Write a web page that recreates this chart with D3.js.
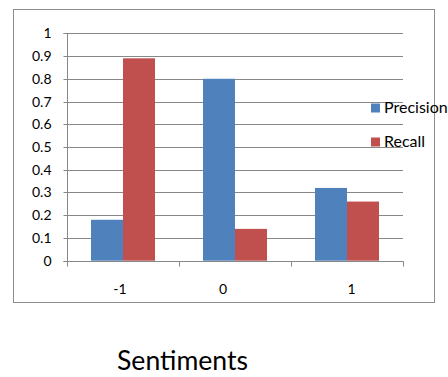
<!DOCTYPE html>
<html>
<head>
<meta charset="utf-8">
<script src="https://cdn.jsdelivr.net/npm/d3@7"></script>
<style>
html,body{margin:0;padding:0;background:#fff;}
svg{display:block;}
text{font-family:Lato,"Open Sans",sans-serif;fill:#000;}
</style>
</head>
<body>
<script>
const categories = ["-1", "0", "1"];
const seriesNames = ["Precision", "Recall"];
const precision = [0.18, 0.80, 0.32];
const recall = [0.89, 0.14, 0.26];
const yTicks = [0, 0.1, 0.2, 0.3, 0.4, 0.5, 0.6, 0.7, 0.8, 0.9, 1];
const colors = ["#4F81BD", "#C0504D"];
const xTitle = "Sentiments";

const W = 448, H = 377;
const svg = d3.select("body").append("svg").attr("width", W).attr("height", H);

// outer chart frame
svg.append("rect").attr("x", 13.5).attr("y", 9.5).attr("width", 421).attr("height", 293)
  .attr("fill", "#fff").attr("stroke", "#8c8c8c").attr("stroke-width", 1);

const pL = 67, pR = 403, pT = 33.3, pB = 260.7;
const x = d3.scaleBand().domain(categories).range([pL, pR]).paddingInner(0).paddingOuter(0);
const y = d3.scaleLinear().domain([0, 1]).range([pB, pT]);

// gridlines
svg.append("g").selectAll("line").data(yTicks.slice(1)).join("line")
  .attr("x1", pL).attr("x2", pR)
  .attr("y1", d => Math.round(y(d)) + 0.5).attr("y2", d => Math.round(y(d)) + 0.5)
  .attr("stroke", "#878787").attr("stroke-width", 1);

// bars
const x1 = d3.scaleBand().domain(seriesNames).range([0, x.bandwidth()]).paddingInner(0).paddingOuter(0.75);
const data = categories.map((c, i) => ({c, vals: [precision[i], recall[i]]}));
const g = svg.append("g");
data.forEach(d => {
  d.vals.forEach((v, j) => {
    g.append("rect")
      .attr("x", x(d.c) + x1(seriesNames[j]))
      .attr("y", y(v))
      .attr("width", x1.bandwidth())
      .attr("height", y(0) - y(v))
      .attr("fill", colors[j]);
  });
});

// y axis
const yAxis = d3.axisLeft(y).tickValues(yTicks).tickSize(4).tickPadding(12)
  .tickFormat(d => d3.format("")(+d.toFixed(1)));
const ya = svg.append("g").attr("transform", `translate(${pL + 0.5},0)`).call(yAxis);
ya.select(".domain").attr("stroke", "#878787").attr("d", `M-4,${Math.round(pT)+0.5}H0V${Math.round(pB)+0.5}H-4`);
ya.selectAll(".tick").attr("transform", d => `translate(0,${Math.round(y(d)) + 0.5})`);
ya.selectAll(".tick line").attr("stroke", "#878787");
ya.selectAll(".tick text").attr("font-size", "14px").attr("font-family", "Lato,sans-serif").attr("fill", "#000");

// x axis
const xa = svg.append("g").attr("transform", `translate(0,${Math.round(pB) + 0.5})`);
xa.append("line").attr("x1", pL).attr("x2", pR + 0.5).attr("y1", 0).attr("y2", 0).attr("stroke", "#878787");
const bounds = categories.map(c => x(c)).concat([x(categories[categories.length - 1]) + x.bandwidth()]);
xa.selectAll("line.tk").data(bounds).join("line").attr("class", "tk")
  .attr("x1", d => Math.round(d) + 0.5).attr("x2", d => Math.round(d) + 0.5)
  .attr("y1", 0).attr("y2", 5).attr("stroke", "#878787");
const labelShift = [-3, -12, 4.5];
xa.selectAll("text").data(categories).join("text")
  .attr("x", (d, i) => x(d) + x.bandwidth() / 2 + labelShift[i]).attr("y", 32)
  .attr("text-anchor", "middle").attr("font-size", "14px").text(d => d);

// legend
const leg = svg.append("g");
seriesNames.forEach((s, i) => {
  const ly = 108 + i * 34;
  leg.append("rect").attr("x", 371).attr("y", ly - 4.5).attr("width", 9).attr("height", 9).attr("fill", colors[i]);
  leg.append("text").attr("x", 384).attr("y", ly + 5).attr("font-size", "16px").text(s);
});

// x title
const t = svg.append("text").attr("x", 182.5).attr("y", 370).attr("text-anchor", "middle")
  .attr("font-size", "25px").text(xTitle);
const tw = t.node().getComputedTextLength();
t.attr("font-size", (25 * 131 / tw).toFixed(2) + "px");
</script>
</body>
</html>
